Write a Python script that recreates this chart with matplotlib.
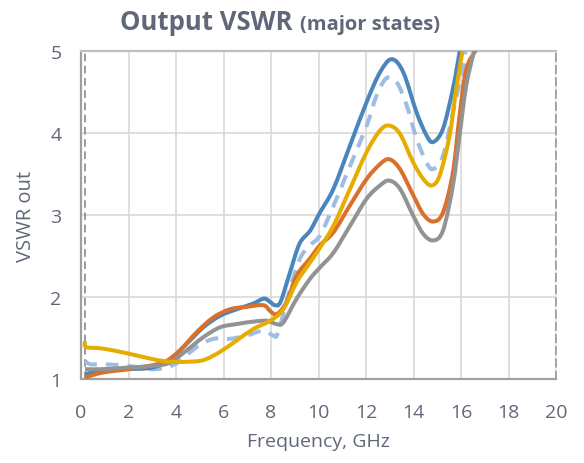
import numpy as np
import matplotlib.pyplot as plt
from matplotlib.path import Path
from matplotlib.patches import PathPatch

plt.rcParams['font.family'] = ['Open Sans', 'DejaVu Sans']

# Output VSWR for the major states
f_blue = [0.17, 0.9, 2.0, 3.0, 3.75, 4.45, 5.15, 5.85, 6.55, 7.25, 7.7, 7.96, 8.17, 8.4, 8.8, 9.2, 9.65, 10.06,
          10.63, 11.33, 12.03, 12.59, 13.08, 13.57, 14.13, 14.55, 14.83, 15.24, 15.66, 15.94, 16.1]
v_blue = [1.06, 1.1, 1.12, 1.14, 1.24, 1.43, 1.63, 1.77, 1.85, 1.92, 1.98, 1.94, 1.9, 1.94, 2.3, 2.65, 2.81, 3.03,
          3.32, 3.85, 4.38, 4.74, 4.9, 4.74, 4.25, 3.97, 3.89, 4.05, 4.54, 4.99, 5.3]

f_orange = [0.17, 0.94, 2.0, 3.05, 3.6, 4.17, 4.87, 5.57, 6.27, 6.98, 7.68, 7.96, 8.24, 8.66, 9.08, 9.64, 10.06,
            10.63, 11.33, 12.03, 12.59, 12.98, 13.43, 13.99, 14.41, 14.83, 15.24, 15.66, 15.94, 16.22, 16.64, 16.8]
v_orange = [1.02, 1.08, 1.12, 1.17, 1.22, 1.35, 1.57, 1.75, 1.85, 1.88, 1.9, 1.83, 1.79, 1.94, 2.26, 2.47, 2.63,
            2.79, 3.12, 3.44, 3.62, 3.68, 3.56, 3.24, 3.01, 2.92, 3.03, 3.52, 4.21, 4.78, 5.03, 5.3]

f_gray = [0.17, 0.94, 2.0, 3.05, 3.75, 4.45, 5.15, 5.85, 6.55, 7.26, 7.82, 8.24, 8.52, 9.08, 9.64, 10.06,
          10.63, 11.33, 12.03, 12.59, 12.98, 13.43, 13.99, 14.41, 14.83, 15.24, 15.66, 15.94, 16.22, 16.57, 16.75]
v_gray = [1.12, 1.12, 1.14, 1.16, 1.2, 1.35, 1.51, 1.63, 1.67, 1.7, 1.71, 1.67, 1.69, 1.98, 2.22, 2.36,
          2.54, 2.87, 3.2, 3.36, 3.42, 3.32, 2.99, 2.77, 2.69, 2.81, 3.36, 3.97, 4.58, 5.03, 5.3]

f_yellow = [0.17, 0.22, 0.94, 2.0, 3.05, 3.75, 4.45, 5.15, 5.85, 6.55, 7.26, 7.96, 8.52, 9.08, 9.64, 10.06,
            10.63, 11.33, 12.03, 12.59, 12.98, 13.43, 13.99, 14.41, 14.76, 15.1, 15.52, 15.8, 16.08, 16.25]
v_yellow = [1.46, 1.39, 1.37, 1.31, 1.24, 1.21, 1.21, 1.23, 1.33, 1.47, 1.61, 1.71, 1.85, 2.18, 2.42, 2.6,
            2.87, 3.32, 3.77, 4.03, 4.09, 3.99, 3.64, 3.44, 3.36, 3.48, 3.97, 4.54, 5.03, 5.4]

f_dash = [0.17, 0.4, 0.94, 2.0, 2.9, 3.6, 4.17, 4.87, 5.57, 6.27, 6.98, 7.68, 8.1, 8.3, 8.8, 9.22, 9.64, 10.06,
          10.63, 11.33, 12.03, 12.45, 12.87, 13.29, 13.71, 14.13, 14.55, 14.83, 15.24, 15.66, 16.08, 16.35]
v_dash = [1.22, 1.18, 1.18, 1.16, 1.12, 1.14, 1.22, 1.39, 1.49, 1.49, 1.53, 1.59, 1.53, 1.57, 2.1, 2.47, 2.63, 2.75,
          3.11, 3.6, 4.09, 4.46, 4.67, 4.62, 4.34, 3.93, 3.64, 3.56, 3.72, 4.25, 4.82, 5.3]

txt = '#5f6779'


def smooth_path(xs, ys):
    # Excel-style smoothed line: bezier segments through the points
    p = np.column_stack([xs, ys]).astype(float)
    ext = np.vstack([p[0], p, p[-1]])
    verts = [p[0]]
    codes = [Path.MOVETO]
    for i in range(len(p) - 1):
        p0, p1, p2, p3 = ext[i], ext[i + 1], ext[i + 2], ext[i + 3]
        verts += [p1 + (p2 - p0) / 6, p2 - (p3 - p1) / 6, p2]
        codes += [Path.CURVE4] * 3
    return Path(verts, codes)


fig = plt.figure(figsize=(5.84, 4.64), dpi=100)
ax = fig.add_axes([81/584, 1-380/464, 475/584, 328/464])

lw = 2.9
series = [(f_dash, v_dash, '#9dbde3', (0, (3.2, 2.2))),
          (f_blue, v_blue, '#4a86bd', '-'),
          (f_orange, v_orange, '#d9702c', '-'),
          (f_gray, v_gray, '#939393', '-'),
          (f_yellow, v_yellow, '#e6ac00', '-')]
for z, (fx, vy, c, ls) in enumerate(series):
    ax.add_patch(PathPatch(smooth_path(fx, vy), fill=False, edgecolor=c, lw=lw, ls=ls,
                           capstyle='butt', joinstyle='round', zorder=3 + z))

ax.axvline(0.17, color='#808080', lw=1.1, ls=(0, (5, 3)), zorder=2)

ax.set_xlim(0, 20)
ax.set_ylim(1, 5)
ax.set_xticks(np.arange(0, 21, 2))
ax.set_yticks([1, 2, 3, 4, 5])
ax.grid(True, color='#d9d9d9', lw=1.2)
ax.set_axisbelow(True)
ax.tick_params(length=0, labelsize=14, colors=txt)
ax.tick_params(axis='x', pad=17.5)
ax.tick_params(axis='y', pad=14)

ax.spines['left'].set_color('#a0a0a0')
ax.spines['left'].set_linewidth(1.6)
ax.spines['bottom'].set_color('#a0a0a0')
ax.spines['bottom'].set_linewidth(1.6)
ax.spines['top'].set_color('#bfbfbf')
ax.spines['top'].set_linewidth(1.6)
ax.spines['right'].set_color('#909090')
ax.spines['right'].set_linewidth(1.1)
ax.spines['right'].set_linestyle((0, (5, 3)))

ax.set_xlabel('Frequency, GHz', fontsize=14, color=txt, labelpad=8)
ax.set_ylabel('VSWR out', fontsize=14.5, color=txt, labelpad=10)

t = fig.text(120/584, 1-30/464, 'Output VSWR', fontsize=18.5, fontweight='bold', color=txt, va='baseline')
fig.canvas.draw()
bb = t.get_window_extent()
fig.text((bb.x1 + 7)/584, 1-30/464, '(major states)', fontsize=14.5, fontweight='bold', color=txt, va='baseline')

fig.savefig('out.png', dpi=100)
